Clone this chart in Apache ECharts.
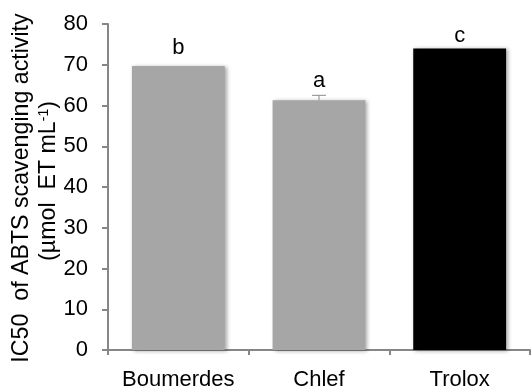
<!DOCTYPE html>
<html><head><meta charset="utf-8">
<script src="https://cdn.jsdelivr.net/npm/echarts@6/dist/echarts.min.js"></script>
<style>html,body{margin:0;padding:0;background:#fff}#c{width:531px;height:388px}</style>
</head><body><div id="c"></div>
<script>
const categories = ['Boumerdes', 'Chlef', 'Trolox'];
const values = [69.7, 61.3, 74.0];
const errors = [0, 1.2, 0];
const letters = ['b', 'a', 'c'];
const barColors = ['#a6a6a6', '#a6a6a6', '#000000'];
const letterGaps = [7, 3, 2];
const yTicks = [0, 10, 20, 30, 40, 50, 60, 70, 80];
const yTitle1 = 'IC50  of ABTS scavenging activity';
const yTitle2 = '(µmol  ET mL';
const yTitleSup = '-1';

const FONT = 'Liberation Sans, Arial, sans-serif';
const chart = echarts.init(document.getElementById('c'));
chart.setOption({
  animation: false,
  grid: { left: 108, right: 1, top: 24, bottom: 38, outerBoundsMode: 'none', containLabel: false },
  graphic: [
    {
      type: 'text', x: 22, y: 188, rotation: Math.PI / 2,
      style: { text: yTitle1, font: '23.2px ' + FONT, fill: '#000', align: 'center', verticalAlign: 'middle' }
    },
    {
      type: 'text', x: 49, y: 181, rotation: Math.PI / 2,
      style: {
        text: '{t|' + yTitle2 + '}{s|' + yTitleSup + '}{t|)}',
        align: 'center', verticalAlign: 'middle',
        rich: {
          t: { fontSize: 23.2, fontFamily: FONT, fill: '#000', color: '#000', lineHeight: 28 },
          s: { fontSize: 14, fontFamily: FONT, fill: '#000', color: '#000', lineHeight: 28, padding: [0, 0, 10, 0] }
        }
      }
    }
  ],
  xAxis: {
    type: 'category', data: categories,
    axisLine: { lineStyle: { color: '#868686', width: 2 } },
    axisTick: { show: true, length: 5, lineStyle: { color: '#868686', width: 2 } },
    axisLabel: { color: '#000', fontSize: 22, fontFamily: FONT, margin: 19, interval: 0 }
  },
  yAxis: {
    type: 'value', min: yTicks[0], max: yTicks[yTicks.length - 1], interval: 10,
    splitLine: { show: false },
    axisLine: { show: true, lineStyle: { color: '#868686', width: 2 } },
    axisTick: { show: true, length: 6, lineStyle: { color: '#868686', width: 2 } },
    axisLabel: { color: '#000', fontSize: 22, fontFamily: FONT, margin: 20 }
  },
  series: [
    {
      type: 'bar', barWidth: '66%',
      data: values.map((v, i) => ({
        value: v,
        itemStyle: { color: barColors[i], shadowColor: 'rgba(0,0,0,0.35)', shadowBlur: 4, shadowOffsetX: 2, shadowOffsetY: 1 }
      })),
      z: 2
    },
    {
      type: 'custom', z: 3,
      data: values.map((v, i) => [i, v, errors[i]]),
      renderItem: function (params, api) {
        const i = api.value(0), v = api.value(1), e = api.value(2);
        const base = api.coord([i, v]);
        const top = api.coord([i, v + e]);
        const children = [];
        if (e > 0) {
          children.push({ type: 'line', shape: { x1: base[0], y1: base[1], x2: top[0], y2: top[1] }, style: { stroke: '#8a8a8a', lineWidth: 1 } });
          children.push({ type: 'line', shape: { x1: top[0] - 7, y1: top[1], x2: top[0] + 7, y2: top[1] }, style: { stroke: '#8a8a8a', lineWidth: 1 } });
        }
        children.push({
          type: 'text',
          style: { x: top[0], y: top[1] - letterGaps[i], text: letters[i], fill: '#000', font: '22px ' + FONT, textAlign: 'center', textVerticalAlign: 'bottom' }
        });
        return { type: 'group', children: children };
      }
    }
  ]
});
</script></body></html>
